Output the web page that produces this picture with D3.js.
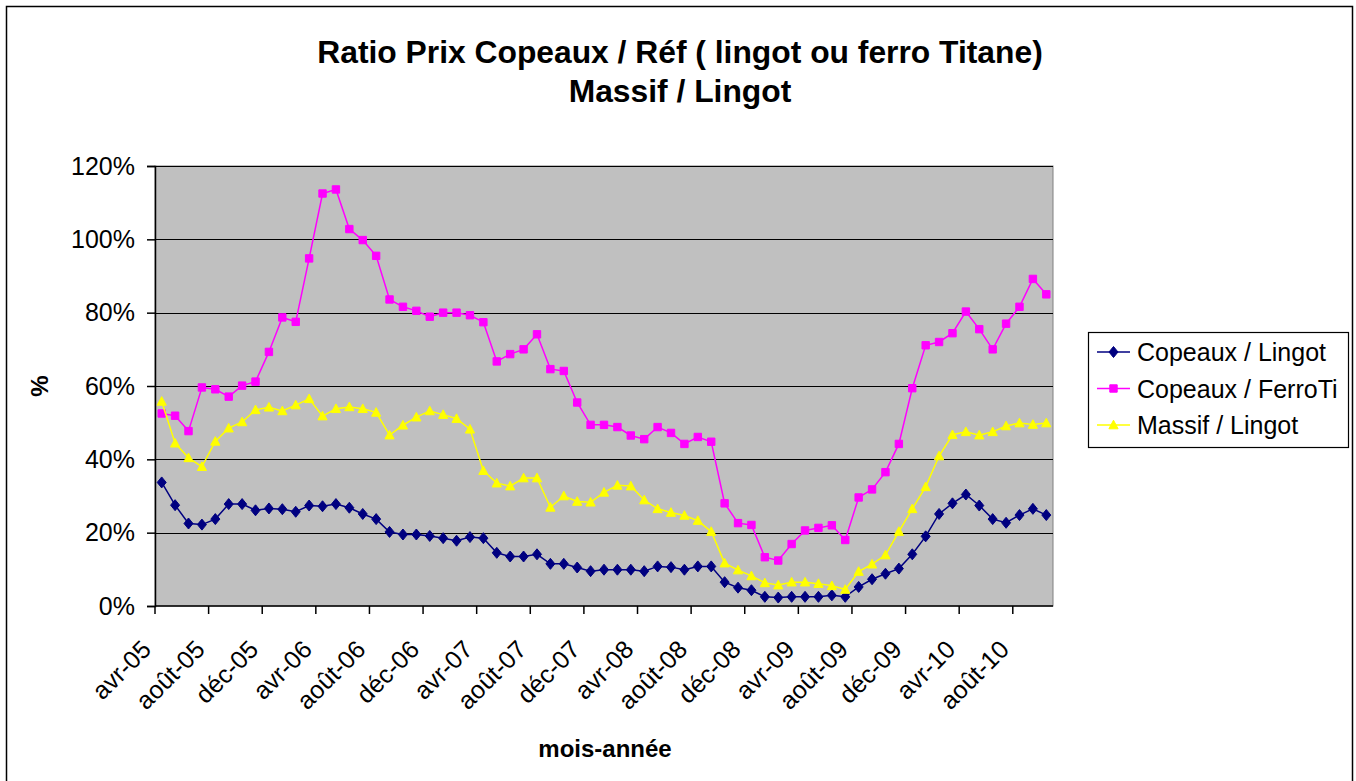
<!DOCTYPE html>
<html>
<head>
<meta charset="utf-8">
<script src="https://cdn.jsdelivr.net/npm/d3@7"></script>
<style>
  body { margin: 0; background: #fff; }
  text { font-family: "Liberation Sans", Arial, sans-serif; }
</style>
</head>
<body>
<div id="chart"></div>
<script>
// Categories: one per month, avr-05 .. oct-10
var months = [
  "avr-05","mai-05","juin-05","juil-05","août-05","sept-05","oct-05","nov-05","déc-05",
  "janv-06","févr-06","mars-06","avr-06","mai-06","juin-06","juil-06","août-06","sept-06","oct-06","nov-06","déc-06",
  "janv-07","févr-07","mars-07","avr-07","mai-07","juin-07","juil-07","août-07","sept-07","oct-07","nov-07","déc-07",
  "janv-08","févr-08","mars-08","avr-08","mai-08","juin-08","juil-08","août-08","sept-08","oct-08","nov-08","déc-08",
  "janv-09","févr-09","mars-09","avr-09","mai-09","juin-09","juil-09","août-09","sept-09","oct-09","nov-09","déc-09",
  "janv-10","févr-10","mars-10","avr-10","mai-10","juin-10","juil-10","août-10","sept-10","oct-10"
];

// Series values (in %)
var copeauxLingot = [
  33.7, 27.5, 22.5, 22.2, 23.7, 27.8, 27.8, 26.1, 26.6, 26.4,
  25.7, 27.4, 27.2, 27.8, 26.8, 25.1, 23.7, 20.2, 19.5, 19.5,
  19.1, 18.5, 17.8, 18.8, 18.5, 14.5, 13.5, 13.5, 14.1, 11.5,
  11.5, 10.5, 9.5, 9.9, 9.9, 9.9, 9.5, 10.8, 10.6, 9.9,
  10.8, 10.8, 6.5, 5.0, 4.3, 2.5, 2.3, 2.5, 2.5, 2.5,
  2.9, 2.5, 5.2, 7.3, 8.8, 10.2, 14.1, 19.0, 25.1, 28.0,
  30.4, 27.4, 23.7, 22.7, 24.8, 26.5, 24.8
];
var copeauxFerro = [
  52.5, 51.9, 47.7, 59.6, 59.1, 57.1, 60.1, 61.2, 69.3, 78.7,
  77.5, 94.8, 112.5, 113.6, 102.8, 99.8, 95.5, 83.6, 81.6, 80.5,
  78.9, 80.0, 80.0, 79.3, 77.4, 66.7, 68.7, 70.0, 74.1, 64.6,
  64.1, 55.5, 49.4, 49.4, 48.8, 46.5, 45.5, 48.8, 47.2, 44.2,
  46.1, 44.8, 28.0, 22.6, 22.1, 13.3, 12.4, 16.9, 20.6, 21.3,
  22.0, 18.0, 29.6, 31.8, 36.5, 44.2, 59.4, 71.1, 72.0, 74.4,
  80.3, 75.5, 70.0, 77.0, 81.6, 89.2, 85.0
];
var massifLingot = [
  55.8, 44.4, 40.4, 38.0, 44.9, 48.5, 50.2, 53.5, 54.2, 53.2,
  54.8, 56.5, 51.8, 53.8, 54.3, 53.8, 52.8, 46.6, 49.3, 51.5,
  53.2, 52.2, 51.1, 48.2, 36.9, 33.5, 32.7, 34.9, 34.9, 26.9,
  30.0, 28.5, 28.3, 31.0, 32.9, 32.7, 28.9, 26.5, 25.5, 24.7,
  23.3, 20.3, 11.7, 9.8, 8.2, 6.3, 5.7, 6.5, 6.5, 6.1,
  5.5, 4.5, 9.4, 11.4, 13.9, 20.3, 26.5, 32.5, 40.9, 46.7,
  47.5, 46.6, 47.5, 49.1, 49.9, 49.5, 49.9
];

var seriesNames = ["Copeaux / Lingot", "Copeaux / FerroTi", "Massif / Lingot"];
var yTicks = [0, 20, 40, 60, 80, 100, 120];

var svgWidth = 1356;
var svgHeight = 781;

// plot area
var plot = { left: 155, right: 1053, top: 166, bottom: 606 };

var svg = d3.select("#chart")
  .append("svg")
    .attr("width", svgWidth)
    .attr("height", svgHeight);

// outer chart border
svg.append("rect")
  .attr("x", 6.5).attr("y", 6.5)
  .attr("width", 1346).attr("height", 800)
  .attr("fill", "#fff")
  .attr("stroke", "#000")
  .attr("stroke-width", 1.5);

var xScale = d3.scaleBand()
  .domain(months)
  .range([plot.left, plot.right])
  .padding(0);

var yScale = d3.scaleLinear()
  .domain([0, 120])
  .range([plot.bottom, plot.top]);

var cx = d => xScale(d) + xScale.bandwidth() / 2;

// plot background
svg.append("rect")
  .attr("x", plot.left).attr("y", plot.top)
  .attr("width", plot.right - plot.left)
  .attr("height", plot.bottom - plot.top)
  .attr("fill", "#c0c0c0")
  .attr("stroke", "#808080")
  .attr("stroke-width", 1);

// gridlines
svg.append("g")
  .selectAll("line")
  .data(yTicks.filter(t => t > 0))
  .enter()
  .append("line")
    .attr("x1", plot.left).attr("x2", plot.right)
    .attr("y1", d => Math.round(yScale(d)) + 0.5)
    .attr("y2", d => Math.round(yScale(d)) + 0.5)
    .attr("stroke", "#000")
    .attr("stroke-width", 1.2);

// y axis
var leftAxis = d3.axisLeft(yScale)
  .tickValues(yTicks)
  .tickSize(8)
  .tickPadding(12)
  .tickFormat(d => d + "%");

var yAxisG = svg.append("g")
  .attr("transform", `translate(${plot.left}, 0)`)
  .call(leftAxis);
yAxisG.select(".domain").attr("stroke", "#000").attr("stroke-width", 1.5);
yAxisG.selectAll(".tick line").attr("stroke", "#000").attr("stroke-width", 1.5);
yAxisG.selectAll(".tick text")
  .attr("font-size", "25px")
  .attr("fill", "#000")
  .style("font-family", "'Liberation Sans', Arial, sans-serif");

// x axis: ticks between categories, every 4 months
var tickIdx = d3.range(0, months.length, 4);
var xAxisG = svg.append("g");
xAxisG.append("line")
  .attr("x1", plot.left).attr("x2", plot.right)
  .attr("y1", plot.bottom).attr("y2", plot.bottom)
  .attr("stroke", "#000").attr("stroke-width", 1.5);
xAxisG.selectAll("line.tk")
  .data(tickIdx)
  .enter()
  .append("line")
    .attr("class", "tk")
    .attr("x1", i => xScale(months[i]))
    .attr("x2", i => xScale(months[i]))
    .attr("y1", plot.bottom).attr("y2", plot.bottom + 8)
    .attr("stroke", "#000").attr("stroke-width", 1.5);
xAxisG.selectAll("text")
  .data(tickIdx)
  .enter()
  .append("text")
    .attr("transform", i => `translate(${cx(months[i]) - 9}, 651) rotate(-45)`)
    .attr("text-anchor", "end")
    .attr("font-size", "25px")
    .text(i => months[i]);

// lines + markers
var series = [
  { name: seriesNames[0], values: copeauxLingot, color: "#000080", shape: "diamond" },
  { name: seriesNames[1], values: copeauxFerro, color: "#ff00ff", shape: "square" },
  { name: seriesNames[2], values: massifLingot, color: "#ffff00", shape: "triangle" }
];

function markerPath(shape) {
  if (shape === "diamond") return "M0,-5.5L4.5,0L0,5.5L-4.5,0Z";
  if (shape === "square") return "M-3.7,-3.7H3.7V3.7H-3.7Z";
  return "M0,-4.8L4.6,3.8H-4.6Z";
}

var line = d3.line()
  .x((d, i) => cx(months[i]))
  .y(d => yScale(d));

series.forEach(function(s) {
  var g = svg.append("g");
  g.append("path")
    .datum(s.values)
    .attr("d", line)
    .attr("fill", "none")
    .attr("stroke", s.color)
    .attr("stroke-width", 1.5);
  g.selectAll("path.mk")
    .data(s.values)
    .enter()
    .append("path")
      .attr("class", "mk")
      .attr("d", markerPath(s.shape))
      .attr("transform", (d, i) => `translate(${cx(months[i])}, ${yScale(d)})`)
      .attr("fill", s.color)
      .attr("stroke", s.color)
      .attr("stroke-width", 1);
});

// title
svg.append("text")
  .attr("x", 680).attr("y", 63)
  .attr("text-anchor", "middle")
  .attr("font-size", "31.8px")
  .attr("font-weight", "bold")
  .text("Ratio Prix Copeaux / Réf ( lingot ou ferro Titane)");
svg.append("text")
  .attr("x", 680).attr("y", 102)
  .attr("text-anchor", "middle")
  .attr("font-size", "31.8px")
  .attr("font-weight", "bold")
  .text("Massif / Lingot");

// axis titles
svg.append("text")
  .attr("x", 605).attr("y", 757)
  .attr("text-anchor", "middle")
  .attr("font-size", "24px")
  .attr("font-weight", "bold")
  .text("mois-année");

svg.append("text")
  .attr("transform", "translate(48, 386) rotate(-90)")
  .attr("text-anchor", "middle")
  .attr("font-size", "24px")
  .attr("font-weight", "bold")
  .text("%");

// legend
var legend = svg.append("g");
legend.append("rect")
  .attr("x", 1088.5).attr("y", 332.5)
  .attr("width", 260).attr("height", 115)
  .attr("fill", "#fff")
  .attr("stroke", "#000")
  .attr("stroke-width", 1.2);

var legendItems = legend.selectAll("g.item")
  .data(series)
  .enter()
  .append("g")
    .attr("class", "item")
    .attr("transform", (d, i) => `translate(1097, ${352 + i * 36.5})`);
legendItems.append("line")
  .attr("x1", 0).attr("x2", 33)
  .attr("stroke", d => d.color)
  .attr("stroke-width", 1.5);
legendItems.append("path")
  .attr("d", d => markerPath(d.shape))
  .attr("transform", "translate(16.5, 0)")
  .attr("fill", d => d.color)
  .attr("stroke", d => d.color);
legendItems.append("text")
  .attr("x", 40).attr("y", 9)
  .attr("font-size", "25px")
  .text(d => d.name);
</script>
</body>
</html>
